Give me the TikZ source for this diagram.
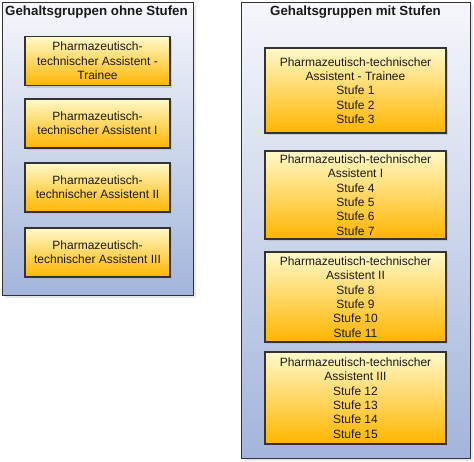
\documentclass[tikz,border=0pt]{standalone}
\usepackage{fontspec}
\setmainfont{Liberation Sans}
\usetikzlibrary{shadows}
\definecolor{grupoarriba}{HTML}{F6F7FC}
\definecolor{grupoabajo}{HTML}{A3B5DB}
\definecolor{cajaarriba}{HTML}{FFF9C9}
\definecolor{cajaabajo}{HTML}{FFB500}
\definecolor{borde}{HTML}{333333}
\begin{document}
\begin{tikzpicture}
 	[x=1pt,y=-1pt,
 	grupo/.style={rectangle,draw=borde,line width=1pt,top color=grupoarriba,bottom color=grupoabajo,
 		inner sep=0pt,drop shadow={shadow xshift=2.5pt,shadow yshift=-2.5pt,fill=black!18}},
 	caja/.style={rectangle,draw=borde,line width=1.1pt,top color=cajaarriba,bottom color=cajaabajo,
 		inner sep=0pt,align=center,text=black!90,font=\fontsize{12}{14.3}\selectfont,
 		drop shadow={shadow xshift=2pt,shadow yshift=-2pt,fill=black!30}},
 	caja1/.style={caja,minimum width=145pt,minimum height=49pt},
 	caja2/.style={caja,minimum width=181pt},
 	titulo/.style={inner sep=0pt,font=\bfseries\fontsize{13.3}{15}\selectfont,text=black!90}]
 	\useasboundingbox (0,0) rectangle (474,461);
 	%  grupos 
 	\node[grupo,minimum width=191pt,minimum height=293pt] (L) at (97.5,148.5) {};
 	\node[grupo,minimum width=229pt,minimum height=456pt] (R) at (355.5,230) {};
 	\node[titulo] (tl) at (96.5,12.5) {Gehaltsgruppen ohne Stufen};
 	\node[titulo] (tr) at (355.5,12) {Gehaltsgruppen mit Stufen};
 	%  sin stufen 
 	\node[caja1] (l1) at (97.5,61) {Pharmazeutisch-\\technischer Assistent -\\Trainee};
 	\node[caja1] (l2) at (97.5,123.5) {Pharmazeutisch-\\technischer Assistent I};
 	\node[caja1] (l3) at (97.5,187.5) {Pharmazeutisch-\\technischer Assistent II};
 	\node[caja1] (l4) at (97.5,252.5) {Pharmazeutisch-\\technischer Assistent III};
 	%  con stufen 
 	\node[caja2,minimum height=85pt] (r1) at (355.5,90.5) {Pharmazeutisch-technischer\\Assistent - Trainee\\Stufe 1\\Stufe 2\\Stufe 3};
 	\node[caja2,minimum height=88pt] (r2) at (355.5,195) {Pharmazeutisch-technischer\\Assistent I\\Stufe 4\\Stufe 5\\Stufe 6\\Stufe 7};
 	\node[caja2,minimum height=90pt] (r3) at (355.5,297) {Pharmazeutisch-technischer\\Assistent II\\Stufe 8\\Stufe 9\\Stufe 10\\Stufe 11};
 	\node[caja2,minimum height=92pt] (r4) at (355.5,398) {Pharmazeutisch-technischer\\Assistent III\\Stufe 12\\Stufe 13\\Stufe 14\\Stufe 15};
\end{tikzpicture}
\end{document}
